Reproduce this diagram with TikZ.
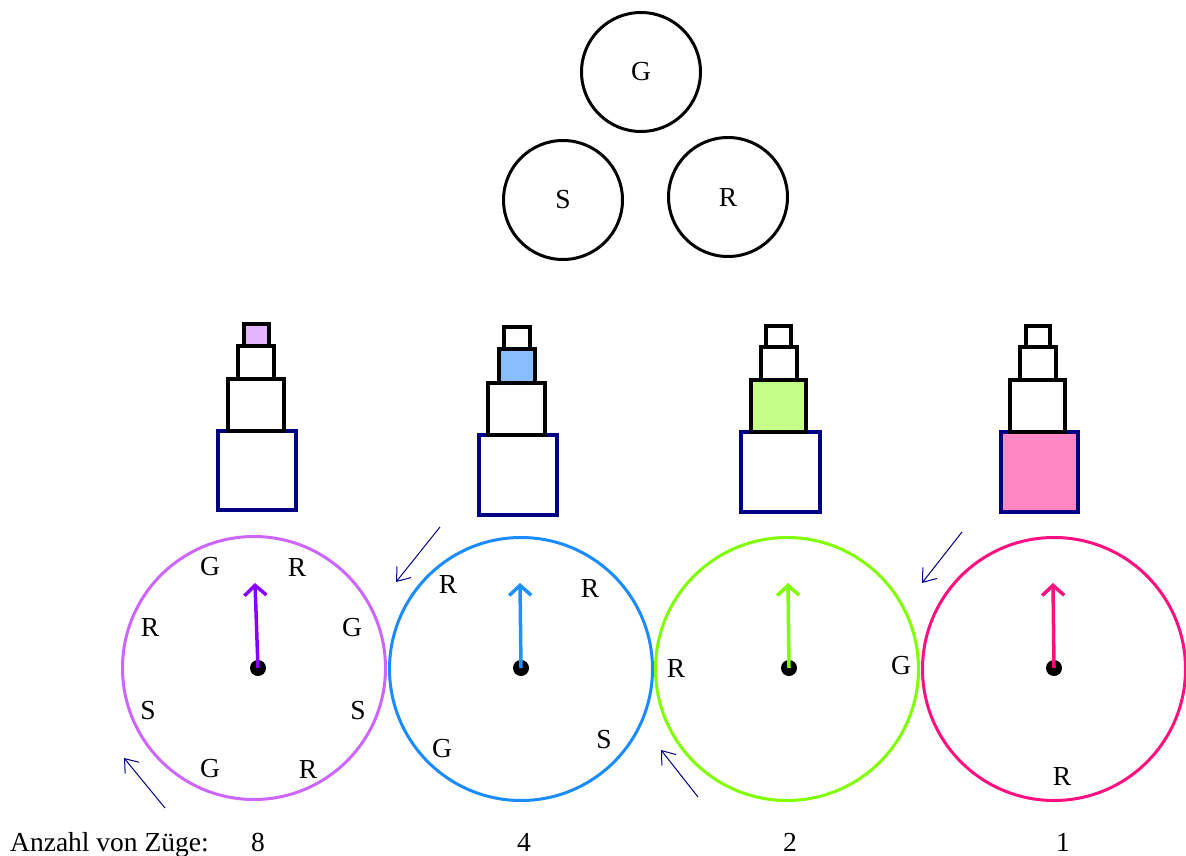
\documentclass[tikz,border=0pt]{standalone}
\usepackage{fontspec}
\setmainfont{Liberation Serif}
\usetikzlibrary{arrows.meta}
\definecolor{navy}{HTML}{000080}
\definecolor{cPurC}{HTML}{CC66FF}
\definecolor{cPurH}{HTML}{8800FF}
\definecolor{cBluC}{HTML}{1A8CFF}
\definecolor{cBluH}{HTML}{1E90FF}
\definecolor{cGrnC}{HTML}{80FF00}
\definecolor{cGrnH}{HTML}{80FF00}
\definecolor{cPnkC}{HTML}{FF1080}
\definecolor{cPnkH}{HTML}{FF1080}
\definecolor{fPur}{HTML}{E4B4FF}
\definecolor{fBlu}{HTML}{88BFFF}
\definecolor{fGrn}{HTML}{C4FF88}
\definecolor{fPnk}{HTML}{FF88C4}
\tikzset{
  lbl/.style={inner sep=0pt, font=\fontsize{27.5}{30}\selectfont},
  topcirc/.style={circle, draw=black, line width=3pt, minimum size=119pt, inner sep=0pt, font=\fontsize{27.5}{30}\selectfont},
  bigcirc/.style={circle, draw=#1, line width=3pt, minimum size=263pt, inner sep=0pt},
  hand/.style={draw=#1, line width=3.5pt, -{Straight Barb[length=10pt,width=22pt,line width=3.5pt]}},
  hub/.style={circle, fill=black, minimum size=16pt, inner sep=0pt},
  blk/.style={draw=black, line width=3.5pt},
  basebox/.style={draw=navy, line width=3.5pt},
  movearrow/.style={draw=navy, line width=1pt, -{Straight Barb[length=12pt,width=18pt,line width=1pt]}},
}
\begin{document}
\begin{tikzpicture}[x=1pt,y=-1pt]
\useasboundingbox (0,0) rectangle (1186,856);
% top circles
\node[topcirc] (tG) at (641,72) {G};
\node[topcirc] (tS) at (563,200) {S};
\node[topcirc] (tR) at (728,197) {R};

% big circles
\node[bigcirc=cPurC] (c1) at (254,668) {};
\node[bigcirc=cBluC] (c2) at (521,669) {};
\node[bigcirc=cGrnC] (c3) at (787,669) {};
\node[bigcirc=cPnkC] (c4) at (1054,669) {};

% hubs and hands
\node[hub] (h1) at (258,668) {};
\node[hub] (h2) at (521,668) {};
\node[hub] (h3) at (789,668) {};
\node[hub] (h4) at (1054,668) {};
\coordinate (t1) at (255,583);
\coordinate (t2) at (520,583);
\coordinate (t3) at (788,583);
\coordinate (t4) at (1053,583);
\draw[hand=cPurH] (h1.center) -- (t1);
\draw[hand=cBluH] (h2.center) -- (t2);
\draw[hand=cGrnH] (h3.center) -- (t3);
\draw[hand=cPnkH] (h4.center) -- (t4);

% letters circle 1
\node[lbl] (a1) at (210,567) {G};
\node[lbl] (a2) at (297,567) {R};
\node[lbl] (a3) at (150,627) {R};
\node[lbl] (a4) at (352,628) {G};
\node[lbl] (a5) at (148,711) {S};
\node[lbl] (a6) at (358,711) {S};
\node[lbl] (a7) at (210,769) {G};
\node[lbl] (a8) at (308,769) {R};
% circle 2
\node[lbl] (b1) at (448,584) {R};
\node[lbl] (b2) at (590,588) {R};
\node[lbl] (b3) at (442,749) {G};
\node[lbl] (b4) at (604,740) {S};
% circle 3
\node[lbl] (d1) at (676,668) {R};
\node[lbl] (d2) at (901,666) {G};
% circle 4
\node[lbl] (e1) at (1062,776) {R};

% towers
% tower 1
\draw[basebox] (218,431) rectangle (296,510);
\draw[blk] (228,379) rectangle (284,431);
\draw[blk] (238,346) rectangle (274,379);
\draw[blk, fill=fPur] (244,324) rectangle (269,346);
% tower 2
\draw[basebox] (479,435) rectangle (557,515);
\draw[blk] (488,383) rectangle (545,435);
\draw[blk, fill=fBlu] (499,349) rectangle (535,383);
\draw[blk] (504,327) rectangle (530,349);
% tower 3
\draw[basebox] (741,432) rectangle (820,512);
\draw[blk, fill=fGrn] (751,380) rectangle (806,432);
\draw[blk] (761,347) rectangle (797,380);
\draw[blk] (766,326) rectangle (791,347);
% tower 4
\draw[basebox, fill=fPnk] (1001,432) rectangle (1078,512);
\draw[blk] (1010,380) rectangle (1065,432);
\draw[blk] (1020,347) rectangle (1056,380);
\draw[blk] (1026,326) rectangle (1050,347);

% move arrows
\coordinate (m1s) at (165,808); \coordinate (m1e) at (124,758);
\coordinate (m2s) at (440,527); \coordinate (m2e) at (396,582);
\coordinate (m3s) at (698,797); \coordinate (m3e) at (661,750);
\coordinate (m4s) at (962,532); \coordinate (m4e) at (922,583);
\draw[movearrow] (m1s) -- (m1e);
\draw[movearrow] (m2s) -- (m2e);
\draw[movearrow] (m3s) -- (m3e);
\draw[movearrow] (m4s) -- (m4e);

% bottom labels
\node[lbl, anchor=base west] (anz) at (10,851) {Anzahl von Züge:};
\node[lbl, anchor=base] (n1) at (258,851) {8};
\node[lbl, anchor=base] (n2) at (524,851) {4};
\node[lbl, anchor=base] (n3) at (790,851) {2};
\node[lbl, anchor=base] (n4) at (1063,851) {1};
\end{tikzpicture}
\end{document}
